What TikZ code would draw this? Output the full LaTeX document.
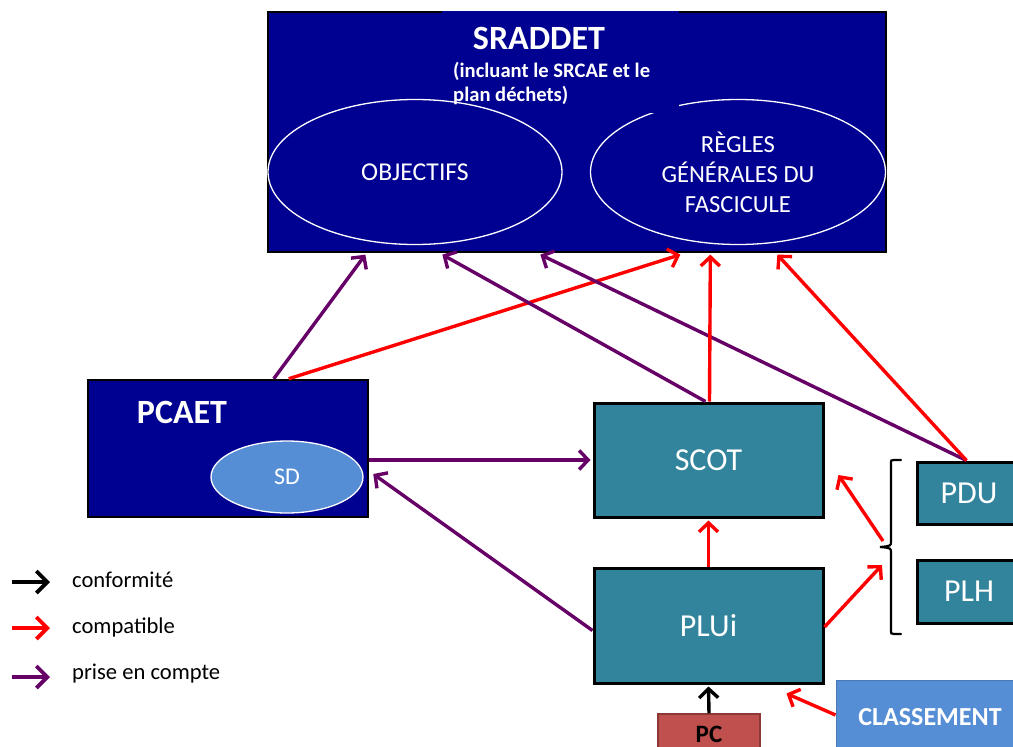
\documentclass[tikz,border=0pt]{standalone}
\usepackage{fontspec}
\setmainfont{Carlito}
\usetikzlibrary{arrows.meta,shapes.geometric}
\definecolor{navy}{RGB}{0,0,145}
\definecolor{tealbox}{RGB}{49,132,155}
\definecolor{lblue}{RGB}{85,142,213}
\definecolor{pcred}{RGB}{192,80,77}
\definecolor{pcborder}{RGB}{140,56,54}
\definecolor{purp}{RGB}{102,0,102}
\definecolor{redarr}{RGB}{255,0,0}
\newcommand\fsz[2]{\fontsize{#1}{#2}\selectfont}
\begin{document}
\begin{tikzpicture}[x=1pt,y=-1pt,
  tealnode/.style={draw=black, line width=3pt, fill=tealbox, text=white, inner sep=0pt, font=\fsz{32}{38}},
  whiteell/.style={ellipse, draw=white, line width=1.3pt, inner sep=0pt, text=white},
  conn/.style={line width=3.4pt, -{Straight Barb[length=9pt,width=19pt]}},
  redconn/.style={conn, draw=redarr},
  purpconn/.style={conn, draw=purp},
  blackconn/.style={conn, draw=black},
  legarrow/.style={line width=3.8pt, -{Straight Barb[length=11pt,width=22pt]}},
  legtext/.style={anchor=west, font=\fsz{22.6}{26}, text=black, inner sep=0pt}
]
\useasboundingbox (0,0) rectangle (1013,747);
\clip (0,0) rectangle (1013,747);

% SRADDET frame
\node[draw=black, line width=1.3pt, fill=navy, minimum width=618pt, minimum height=240pt, inner sep=0pt] (sraddet) at (577,132) {};
\node[whiteell, minimum width=295pt, minimum height=145pt, align=center, font=\fsz{24.6}{30}] (regles) at (738,172) {RÈGLES\\GÉNÉRALES DU\\FASCICULE};
\fill[navy] (442,10.5) rectangle (679,113);
\node[whiteell, minimum width=294pt, minimum height=145pt, font=\fsz{25.7}{30}] (objectifs) at (415,172) {OBJECTIFS};
\node[text=white, font=\bfseries\fsz{34}{40}, inner sep=0pt] (sraddettitle) at (539,38.5) {SRADDET};
\node[text=white, font=\bfseries\fsz{20.6}{24}, anchor=base west, align=left, inner sep=0pt] (sraddetsub) at (453,101.5) {(incluant le SRCAE et le\\plan déchets)};

% PCAET
\node[draw=black, line width=2.5pt, fill=navy, minimum width=280pt, minimum height=137pt, inner sep=0pt] (pcaet) at (228,448.5) {};
\node[text=white, font=\bfseries\fsz{34}{40}, inner sep=0pt] (pcaettitle) at (182,412.5) {PCAET};
\node[ellipse, draw=white, line width=1.3pt, fill=lblue, minimum width=152pt, minimum height=72pt, inner sep=0pt, text=white, font=\fsz{24}{28}] (sd) at (287,477) {SD};

% teal boxes
\node[tealnode, minimum width=229pt, minimum height=114pt] (scot) at (708.5,460) {SCOT};
\node[tealnode, minimum width=229pt, minimum height=115pt] (plui) at (708.5,625.5) {PLUi};
\node[tealnode, minimum width=104pt, minimum height=62pt] (pdu) at (969,493) {PDU};
\node[tealnode, minimum width=104pt, minimum height=63pt] (plh) at (969,591.5) {PLH};

% CLASSEMENT and PC
\node[draw=lblue!85!black, line width=1pt, fill=lblue, minimum width=194pt, minimum height=74pt, inner sep=0pt] (classement) at (933,717) {};
\node[text=white, font=\bfseries\fsz{26}{30}, inner sep=0pt] (classtext) at (930,717) {CLASSEMENT};
\node[draw=pcborder, line width=1.5pt, fill=pcred, minimum width=102pt, minimum height=38pt, inner sep=0pt] (pc) at (709,733) {};
\node[text=black, font=\bfseries\fsz{25}{30}, inner sep=0pt] (pctext) at (709,734) {PC};

% brace
\coordinate (bracetop) at (901,460);
\coordinate (bracetip) at (880,547);
\coordinate (bracebot) at (901,634);
\draw[line width=2.2pt, line cap=round] (bracetop) -- (894,460) .. controls (891,460) .. (891,464) -- (891,541) .. controls (891,546) .. (bracetip) .. controls (891,548) .. (891,553) -- (891,629) .. controls (891,634) .. (894,634) -- (bracebot);
\coordinate (braceA) at (883,541);
\coordinate (braceB) at (882,565);

% connectors to SRADDET
\draw[purpconn] ([xshift=187pt]pcaet.north west) -- ([xshift=98pt,yshift=-2pt]sraddet.south west);
\draw[redconn] ([xshift=202pt]pcaet.north west) -- ([xshift=413pt,yshift=-2pt]sraddet.south west);
\draw[purpconn] ([xshift=113pt]scot.north west) -- ([xshift=175pt,yshift=-2pt]sraddet.south west);
\draw[purpconn] ([xshift=51pt]pdu.north west) -- ([xshift=273pt,yshift=-2pt]sraddet.south west);
\draw[redconn] ([xshift=51pt]pdu.north west) -- ([xshift=510pt,yshift=-2pt]sraddet.south west);
\draw[redconn] ([xshift=117pt]scot.north west) -- ([xshift=443pt,yshift=-2pt]sraddet.south west);

% PCAET / SCOT / PLUi
\draw[purpconn] (pcaet.east |- scot.west) -- ([xshift=-2pt]scot.west);
\draw[purpconn] ([yshift=-5pt]plui.west) -- ([xshift=4pt,yshift=-25.5pt]pcaet.east);
\draw[redconn] (plui.north) -- ([yshift=-2pt]scot.south);
\draw[redconn] (braceA) -- ([xshift=14pt,yshift=-15pt]scot.east);
\draw[redconn] ([yshift=-1.5pt]plui.east) -- (braceB);
\draw[redconn] ([yshift=2pt]classement.west) -- ([xshift=-38pt,yshift=-9pt]plui.south east);
\draw[blackconn] (pc.north) -- ([yshift=-2pt]plui.south);

% legend
\coordinate (l1a) at (12,582); \coordinate (l1b) at (50,582);
\coordinate (l2a) at (12,628); \coordinate (l2b) at (50,628);
\coordinate (l3a) at (12,677); \coordinate (l3b) at (50,677);
\draw[legarrow, draw=black] (l1a) -- (l1b);
\draw[legarrow, draw=redarr] (l2a) -- (l2b);
\draw[legarrow, draw=purp] (l3a) -- (l3b);
\node[legtext] (leg1) at (72,580) {conformité};
\node[legtext] (leg2) at (72,627) {compatible};
\node[legtext] (leg3) at (72,674) {prise en compte};
\end{tikzpicture}
\end{document}
